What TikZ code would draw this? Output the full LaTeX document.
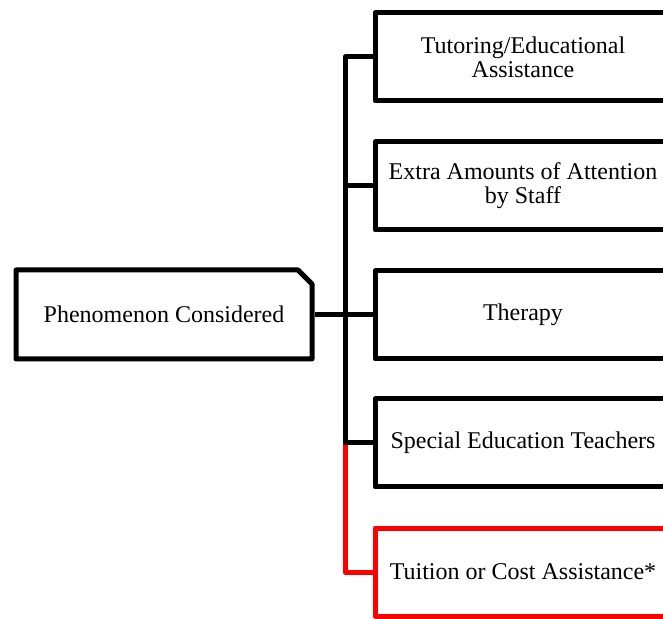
\documentclass[tikz,border=0pt]{standalone}
\usepackage{fontspec}
\setmainfont{Liberation Serif}
\usetikzlibrary{shapes.misc}
\tikzstyle{box} = [draw, line width=5pt, line join=round, minimum width=296pt, minimum height=88pt, align=center, inner sep=0pt, font=\fontsize{24}{24}\selectfont]
\tikzstyle{topic} = [box, chamfered rectangle, chamfered rectangle corners=north east, chamfered rectangle xsep=7pt, chamfered rectangle ysep=7pt, minimum height=89pt]
\tikzstyle{link} = [line width=5pt, line join=round]

\begin{document}
\begin{tikzpicture}[x=1pt,y=1pt]
\clip (0,0) rectangle (663,618);
\node[topic] (phen) at (164,303.5) {Phenomenon Considered};
\node[box] (tutor) at (523,561) {Tutoring/Educational\\Assistance};
\node[box] (extra) at (523,432) {Extra Amounts of Attention\\by Staff};
\node[box] (ther) at (523,303) {Therapy};
\node[box] (sped) at (523,175) {Special Education Teachers};
\node[box, draw=red] (tuit) at (523,46) {Tuition or Cost Assistance*};
\coordinate (trunk) at (345,303.5);
% red branch under the black ones
\draw[link, red] (phen.east) -- (trunk) |- (tuit.west);
\draw[link] (phen.east) -- (trunk) |- (tutor.west);
\draw[link] (trunk) |- (extra.west);
\draw[link] (trunk) |- (ther.west);
\draw[link] (trunk) |- (sped.west);
\end{tikzpicture}
\end{document}
